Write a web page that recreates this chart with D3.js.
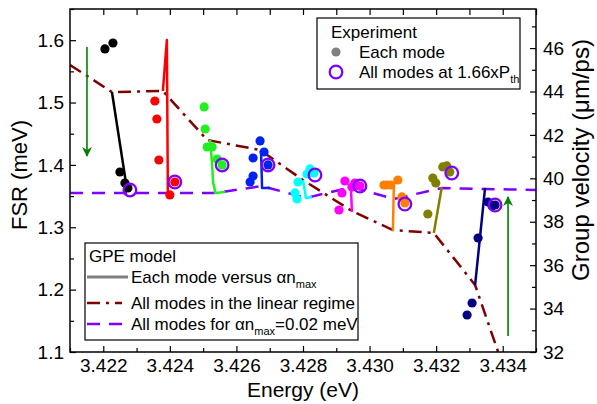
<!DOCTYPE html>
<html><head><meta charset="utf-8">
<script src="https://cdn.jsdelivr.net/npm/d3@7"></script>
<style>body{margin:0;background:#fff}svg{display:block;font-family:"Liberation Sans",Arial,sans-serif}</style>
</head><body><svg id="c" width="597" height="404"></svg>
<script>
// ---- data (FSR in meV vs Energy in eV) ----
const xTicks = [3.422,3.424,3.426,3.428,3.430,3.432,3.434];
const yTicks = [1.1,1.2,1.3,1.4,1.5,1.6];
const vTicks = [32,34,36,38,40,42,44,46];
const modeNames  = ["m1","m2","m3","m4","m5","m6","m7","m8","m9"];
const modeColors = ["#000000","#ff0000","#22ee22","#0022ee","#00ffff","#ff00ff","#ff8000","#808000","#000080"];
// experimental dots for each mode [energy, FSR]
const dots1 = [[3.42205,1.586],[3.42229,1.5955],[3.4225,1.3886],[3.42265,1.371],[3.42274,1.363]];
const dots2 = [[3.42355,1.5025],[3.42361,1.4736],[3.42367,1.4079],[3.424,1.3518],[3.42415,1.3726]];
const dots3 = [[3.42503,1.4929],[3.42506,1.4576],[3.42512,1.4287],[3.42527,1.4287],[3.42542,1.4095],[3.42557,1.3999]];
const dots4 = [[3.42671,1.4384],[3.4265,1.4111],[3.42683,1.4207],[3.4265,1.3822],[3.42641,1.3726],[3.42695,1.3999]];
const dots5 = [[3.42821,1.3935],[3.42812,1.3854],[3.42833,1.387],[3.42785,1.3726],[3.42776,1.355],[3.42782,1.3453]];
const dots6 = [[3.42926,1.3742],[3.42917,1.355],[3.42908,1.3277],[3.42947,1.3646],[3.42956,1.371],[3.42971,1.3662]];
const dots7 = [[3.43043,1.3678],[3.43052,1.3678],[3.43064,1.3678],[3.43085,1.3758],[3.43097,1.3486],[3.43106,1.3389]];
const dots8 = [[3.43175,1.3213],[3.4319,1.379],[3.43199,1.371],[3.4322,1.3967],[3.43232,1.3983],[3.43241,1.3886]];
const dots9 = [[3.43356,1.3405],[3.43368,1.3341],[3.43377,1.3357],[3.43326,1.2828],[3.43308,1.1786],[3.43293,1.1593]];
// GPE model, each mode versus alpha*n_max
const gpe1 = [[3.42226,1.5169],[3.42271,1.3614]];
const gpe2 = [[3.42379,1.5185],[3.42391,1.6003],[3.42394,1.3518]];
const gpe3 = [[3.42521,1.44],[3.42527,1.3999],[3.4253,1.371],[3.42533,1.3662],[3.42536,1.355],[3.42566,1.3566]];
const gpe4 = [[3.42674,1.4223],[3.42677,1.363],[3.42701,1.363]];
const gpe5 = [[3.428,1.3758],[3.42809,1.3469],[3.42827,1.3486]];
const gpe6 = [[3.42947,1.3245],[3.42944,1.3646],[3.42962,1.3662]];
const gpe7 = [[3.4307,1.294],[3.43073,1.3678],[3.43043,1.3694]];
const gpe8 = [[3.43193,1.2908],[3.43217,1.3646]];
const gpe9 = [[3.43317,1.2074],[3.43347,1.363]];
// all modes at 1.66 x Pth
const allModesPth = [[3.4228,1.3598],[3.42415,1.3726],[3.42557,1.3999],[3.42695,1.3999],[3.42836,1.3838],[3.42971,1.3662],[3.43106,1.3373],[3.43247,1.387],[3.43377,1.3357]];
// all modes in the linear regime
const linearRegime = [[3.421,1.5602],[3.42226,1.5169],[3.42379,1.5185],[3.42512,1.44],[3.42671,1.4239],[3.428,1.3758],[3.42947,1.3261],[3.4307,1.2956],[3.43193,1.2908],[3.43317,1.2074],[3.43407,1.068]];
// all modes for alpha*n_max = 0.02 meV
const alphaN002 = [[3.421,1.355],[3.42268,1.355],[3.42394,1.355],[3.42536,1.355],[3.42677,1.3662],[3.42809,1.3469],[3.42947,1.3646],[3.43073,1.3453],[3.43217,1.363],[3.43347,1.3614],[3.435,1.3598]];
// arrows [energy, from, to]
const arrowDown = [3.42151,1.5891,1.4143];
const arrowUp   = [3.43416,1.1257,1.3486];

const modeDots = [dots1,dots2,dots3,dots4,dots5,dots6,dots7,dots8,dots9];
const modeGpe  = [gpe1,gpe2,gpe3,gpe4,gpe5,gpe6,gpe7,gpe8,gpe9];

// ---- layout ----
const L=70,T=9,R=536,B=352;
const svg=d3.select("#c");
const x=d3.scaleLinear().domain([3.421,3.435]).range([L,R]);
const y=d3.scaleLinear().domain([1.1,1.65]).range([B,T]);
const v=d3.scaleLinear().domain([32,47.8]).range([B,T]);

svg.append("defs").append("clipPath").attr("id","clip").append("rect")
  .attr("x",L).attr("y",T).attr("width",R-L).attr("height",B-T);
const defs=svg.select("defs");
defs.append("marker").attr("id","ah").attr("viewBox","0 0 10 10").attr("refX",9).attr("refY",5)
  .attr("markerWidth",10).attr("markerHeight",10).attr("markerUnits","userSpaceOnUse").attr("orient","auto")
  .append("path").attr("d","M0,0 L10,5 L0,10 L3,5 Z").attr("fill","#008000");

const g=svg.append("g").attr("clip-path","url(#clip)");
const line=d3.line().x(d=>x(d[0])).y(d=>y(d[1]));

// linear regime
g.append("path").attr("d",line(linearRegime)).attr("fill","none").attr("stroke","#800000")
  .attr("stroke-width",2.5).attr("stroke-dasharray","13,6,3,6");
// alpha n = 0.02
g.append("path").attr("d",line(alphaN002)).attr("fill","none").attr("stroke","#8000ff")
  .attr("stroke-width",2.5).attr("stroke-dasharray","13,9");
// GPE mode lines
modeGpe.forEach((p,i)=>{
  g.append("path").attr("d",line(p)).attr("fill","none").attr("stroke",modeColors[i])
   .attr("stroke-width",2.5).attr("stroke-linejoin","round");
});
// dots
modeDots.forEach((p,i)=>{
  g.selectAll(null).data(p).enter().append("circle")
   .attr("cx",d=>x(d[0])).attr("cy",d=>y(d[1])).attr("r",4.6).attr("fill",modeColors[i]);
});
// circles at 1.66 Pth
g.selectAll(null).data(allModesPth).enter().append("circle")
 .attr("cx",d=>x(d[0])).attr("cy",d=>y(d[1])).attr("r",6.3)
 .attr("fill","none").attr("stroke","#8000ff").attr("stroke-width",2.3);
// arrows
[arrowDown,arrowUp].forEach(a=>{
  g.append("line").attr("x1",x(a[0])).attr("x2",x(a[0])).attr("y1",y(a[1])).attr("y2",y(a[2]))
   .attr("stroke","#008000").attr("stroke-width",1.6).attr("marker-end","url(#ah)");
});

// ---- axes ----
const fs=19;
function style(sel){sel.select(".domain").remove();
  sel.selectAll("text").attr("font-size",fs).attr("font-family","Liberation Sans, Arial, sans-serif").attr("fill","#000");
  sel.selectAll("line").attr("stroke","#000").attr("stroke-width",1.2);}
svg.append("g").attr("transform",`translate(0,${B})`)
  .call(d3.axisBottom(x).tickValues(xTicks).tickFormat(d3.format(".3f")).tickSizeInner(-6).tickPadding(7)).call(style);
svg.append("g").attr("transform",`translate(0,${B})`)
  .call(d3.axisBottom(x).tickValues(d3.range(3.421,3.4351,0.001).filter(t=>!xTicks.some(k=>Math.abs(k-t)<1e-6))).tickFormat("").tickSizeInner(-4)).call(style);
svg.append("g").attr("transform",`translate(0,${T})`)
  .call(d3.axisTop(x).tickValues(d3.range(3.422,3.4351,0.001)).tickFormat("").tickSizeInner(-6)).call(style);
svg.append("g").attr("transform",`translate(${L},0)`)
  .call(d3.axisLeft(y).tickValues(yTicks).tickFormat(d3.format(".1f")).tickSizeInner(-6).tickPadding(6)).call(style);
svg.append("g").attr("transform",`translate(${L},0)`)
  .call(d3.axisLeft(y).tickValues([1.15,1.25,1.35,1.45,1.55,1.65]).tickFormat("").tickSizeInner(-4)).call(style);
svg.append("g").attr("transform",`translate(${R},0)`)
  .call(d3.axisRight(v).tickValues(vTicks).tickFormat(d3.format("d")).tickSizeInner(-6).tickPadding(7)).call(style);
svg.append("g").attr("transform",`translate(${R},0)`)
  .call(d3.axisRight(v).tickValues([33,35,37,39,41,43,45,47]).tickFormat("").tickSizeInner(-4)).call(style);
svg.append("rect").attr("x",L).attr("y",T).attr("width",R-L).attr("height",B-T)
  .attr("fill","none").attr("stroke","#000").attr("stroke-width",1.5);

// axis titles
svg.append("text").attr("x",(L+R)/2).attr("y",397).attr("text-anchor","middle").attr("font-size",21).text("Energy (eV)");
svg.append("text").attr("transform",`translate(27,175) rotate(-90)`).attr("text-anchor","middle").attr("font-size",22).text("FSR (meV)");
svg.append("text").attr("transform",`translate(589,160) rotate(-90)`).attr("text-anchor","middle").attr("font-size",24).text("Group velocity (μm/ps)");

// ---- legend 1: Experiment ----
const lg1=svg.append("g").attr("font-size",17);
lg1.append("rect").attr("x",317).attr("y",18).attr("width",203).attr("height",71).attr("fill","#fff").attr("stroke","#000").attr("stroke-width",1.2);
lg1.append("text").attr("x",331).attr("y",38).text("Experiment");
lg1.append("circle").attr("cx",336).attr("cy",52).attr("r",4.6).attr("fill","#808080");
lg1.append("text").attr("x",359).attr("y",58).text("Each mode");
lg1.append("circle").attr("cx",336).attr("cy",72).attr("r",6.3).attr("fill","none").attr("stroke","#8000ff").attr("stroke-width",2.3);
const t1=lg1.append("text").attr("x",359).attr("y",78).text("All modes at 1.66xP");
t1.append("tspan").attr("font-size",11).attr("dy",5).text("th");

// ---- legend 2: GPE model ----
const lg2=svg.append("g").attr("font-size",17);
lg2.append("rect").attr("x",85).attr("y",243).attr("width",273).attr("height",97).attr("fill","#fff").attr("stroke","#000").attr("stroke-width",1.2);
lg2.append("text").attr("x",89).attr("y",262).text("GPE model");
lg2.append("line").attr("x1",87).attr("x2",128).attr("y1",277).attr("y2",277).attr("stroke","#808080").attr("stroke-width",3);
const t2=lg2.append("text").attr("x",131).attr("y",283).text("Each mode versus αn");
t2.append("tspan").attr("font-size",11).attr("dy",5).text("max");
lg2.append("line").attr("x1",87).attr("x2",122).attr("y1",303).attr("y2",303).attr("stroke","#800000").attr("stroke-width",2.5).attr("stroke-dasharray","13,6,3,6");
lg2.append("text").attr("x",131).attr("y",309).text("All modes in the linear regime");
lg2.append("line").attr("x1",87).attr("x2",124).attr("y1",324).attr("y2",324).attr("stroke","#8000ff").attr("stroke-width",2.5).attr("stroke-dasharray","13,9");
const t3=lg2.append("text").attr("x",131).attr("y",330).text("All modes for αn");
t3.append("tspan").attr("font-size",11).attr("dy",5).text("max");
t3.append("tspan").attr("dy",-5).text("=0.02 meV");
</script></body></html>
